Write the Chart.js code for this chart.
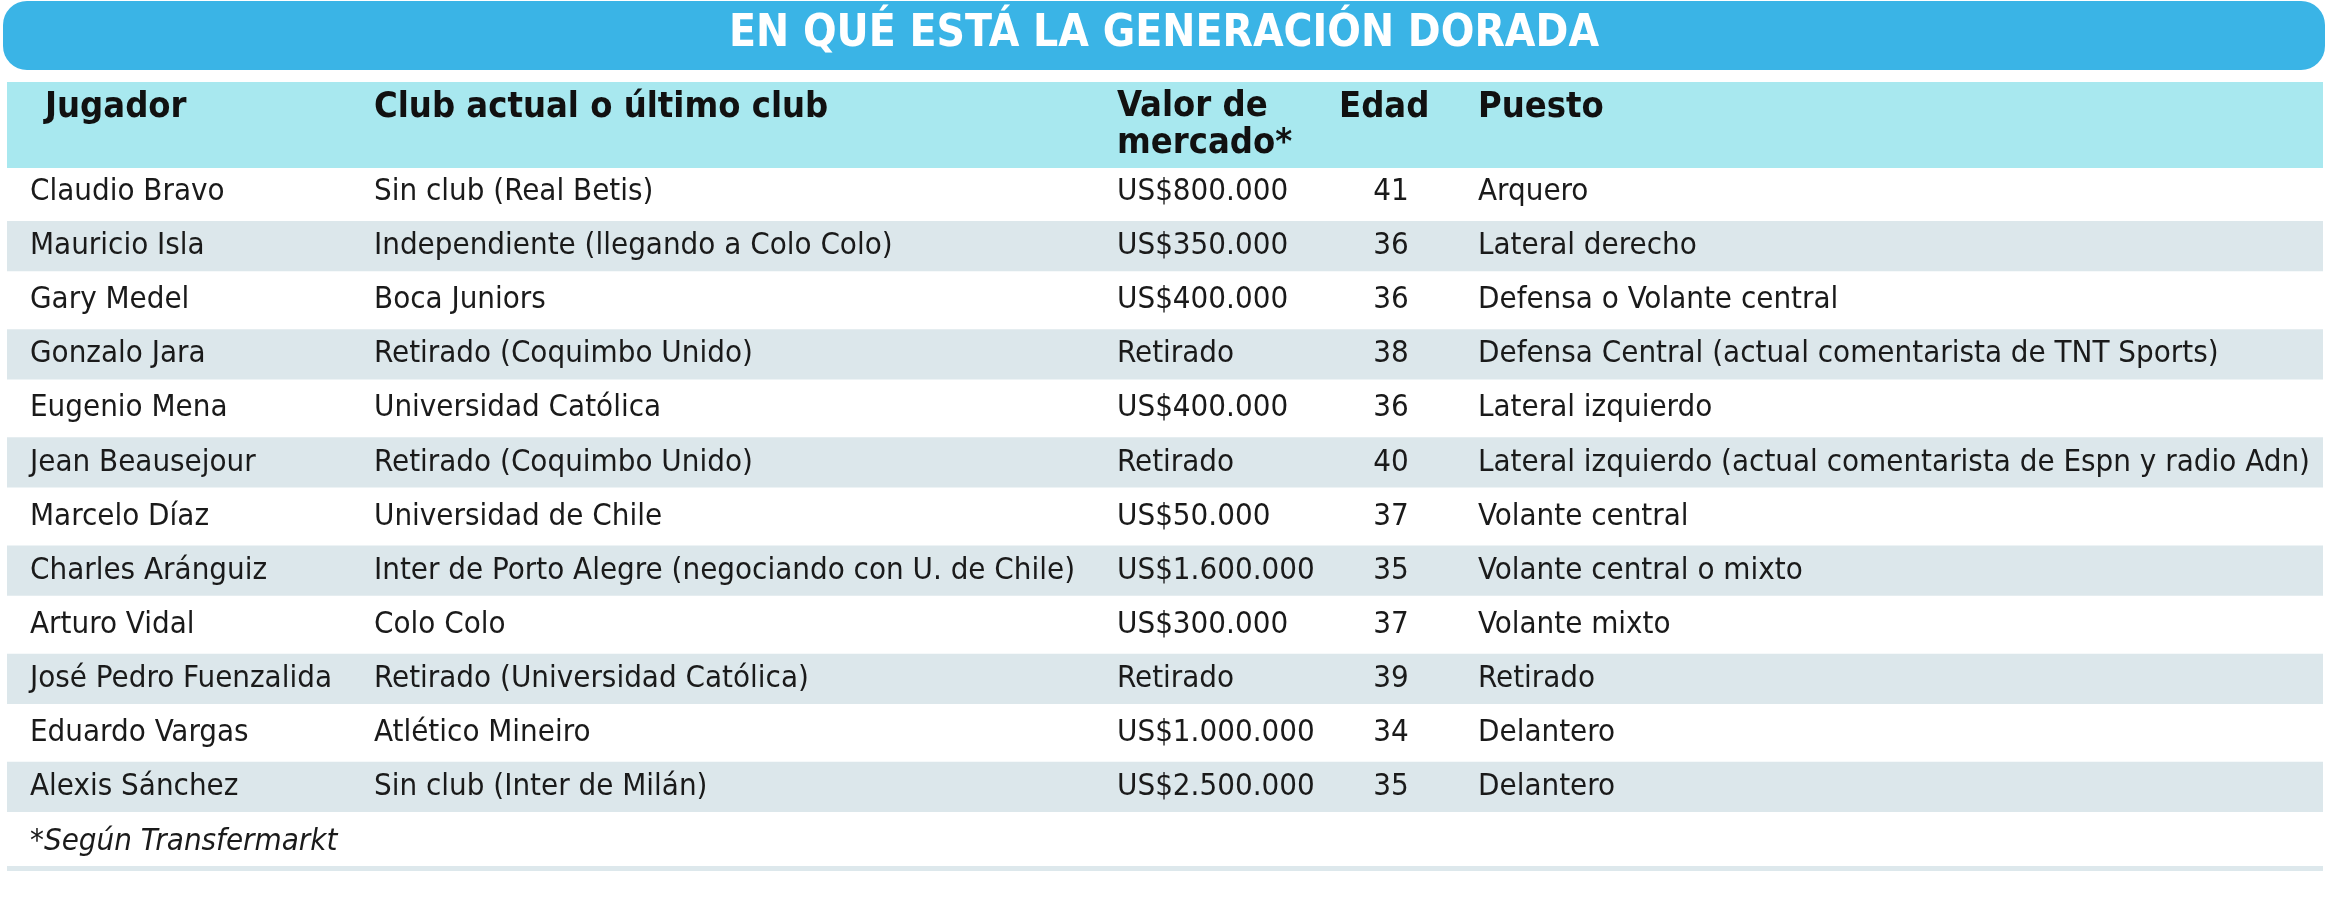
<!DOCTYPE html>
<html><head><meta charset="utf-8">
<script src="https://cdn.jsdelivr.net/npm/chart.js@4"></script>
<style>html,body{margin:0;padding:0;background:#fff}#w{width:2329px;height:920px}</style>
</head><body><div id="w"><canvas id="c"></canvas></div>
<script>
const title = "EN QUÉ ESTÁ LA GENERACIÓN DORADA";
const players = ["Claudio Bravo","Mauricio Isla","Gary Medel","Gonzalo Jara","Eugenio Mena","Jean Beausejour","Marcelo Díaz","Charles Aránguiz","Arturo Vidal","José Pedro Fuenzalida","Eduardo Vargas","Alexis Sánchez"];
const clubs = ["Sin club (Real Betis)","Independiente (llegando a Colo Colo)","Boca Juniors","Retirado (Coquimbo Unido)","Universidad Católica","Retirado (Coquimbo Unido)","Universidad de Chile","Inter de Porto Alegre (negociando con U. de Chile)","Colo Colo","Retirado (Universidad Católica)","Atlético Mineiro","Sin club (Inter de Milán)"];
const values = ["US$800.000","US$350.000","US$400.000","Retirado","US$400.000","Retirado","US$50.000","US$1.600.000","US$300.000","Retirado","US$1.000.000","US$2.500.000"];
const ages = [41,36,36,38,36,40,37,35,37,39,34,35];
const positions = ["Arquero","Lateral derecho","Defensa o Volante central","Defensa Central (actual comentarista de TNT Sports)","Lateral izquierdo","Lateral izquierdo (actual comentarista de Espn y radio Adn)","Volante central","Volante central o mixto","Volante mixto","Retirado","Delantero","Delantero"];
const footnote = "*Según Transfermarkt";

const F = "'Liberation Sans Narrow','DejaVu Sans Condensed','Roboto Condensed',sans-serif";
const bandData = players.map((p,i)=> i%2===1 ? [0,100] : null);

const tablePlugin = {
  id:'table',
  beforeDraw(chart){
    const ctx = chart.ctx;
    ctx.save();
    // title bar
    ctx.fillStyle = '#3ab4e6';
    ctx.beginPath(); ctx.roundRect(3,1,2322,69,24); ctx.fill();
    ctx.fillStyle = '#fff'; ctx.font = `bold 44px ${F}`;
    ctx.textAlign='center'; ctx.textBaseline='middle';
    ctx.fillText(title, 1164, 35);
    // header band
    ctx.fillStyle = '#a8e8ef'; ctx.fillRect(7,82,2316,86);
    ctx.fillStyle = '#111'; ctx.font = `bold 36px ${F}`; ctx.textAlign='left';
    ctx.fillText('Jugador',45,108);
    ctx.fillText('Club actual o último club',374,108);
    ctx.fillText('Valor de',1117,107);
    ctx.fillText('mercado*',1117,144);
    ctx.fillText('Edad',1339,108);
    ctx.fillText('Puesto',1478,108);
    // bottom line
    ctx.fillStyle='#dde8ec'; ctx.fillRect(7,866,2316,5);
    ctx.restore();
  },
  afterDraw(chart){
    const ctx = chart.ctx, y = chart.scales.y;
    ctx.save();
    ctx.fillStyle='#1a1a1a'; ctx.font = `31px ${F}`; ctx.textBaseline='middle';
    players.forEach((p,i)=>{
      const py = y.getPixelForValue(i);
      ctx.textAlign='left';
      ctx.fillText(p,30,py);
      ctx.fillText(clubs[i],374,py);
      ctx.fillText(values[i],1117,py);
      ctx.fillText(positions[i],1478,py);
      ctx.textAlign='center';
      ctx.fillText(String(ages[i]),1391,py);
    });
    ctx.textAlign='left'; ctx.font = `italic 31px ${F}`;
    ctx.fillText(footnote,30,842);
    ctx.restore();
  }
};

new Chart(document.getElementById('c'),{
  type:'bar',
  data:{labels:players,datasets:[{data:bandData,backgroundColor:'#dce7eb',barPercentage:1,categoryPercentage:0.93,borderWidth:0}]},
  options:{
    indexAxis:'y',responsive:true,maintainAspectRatio:false,animation:false,
    layout:{padding:{top:165,bottom:106,left:7,right:6}},
    plugins:{legend:{display:false},tooltip:{enabled:false}},
    scales:{x:{display:false,min:0,max:100},y:{display:false}}
  },
  plugins:[tablePlugin]
});
</script></body></html>
